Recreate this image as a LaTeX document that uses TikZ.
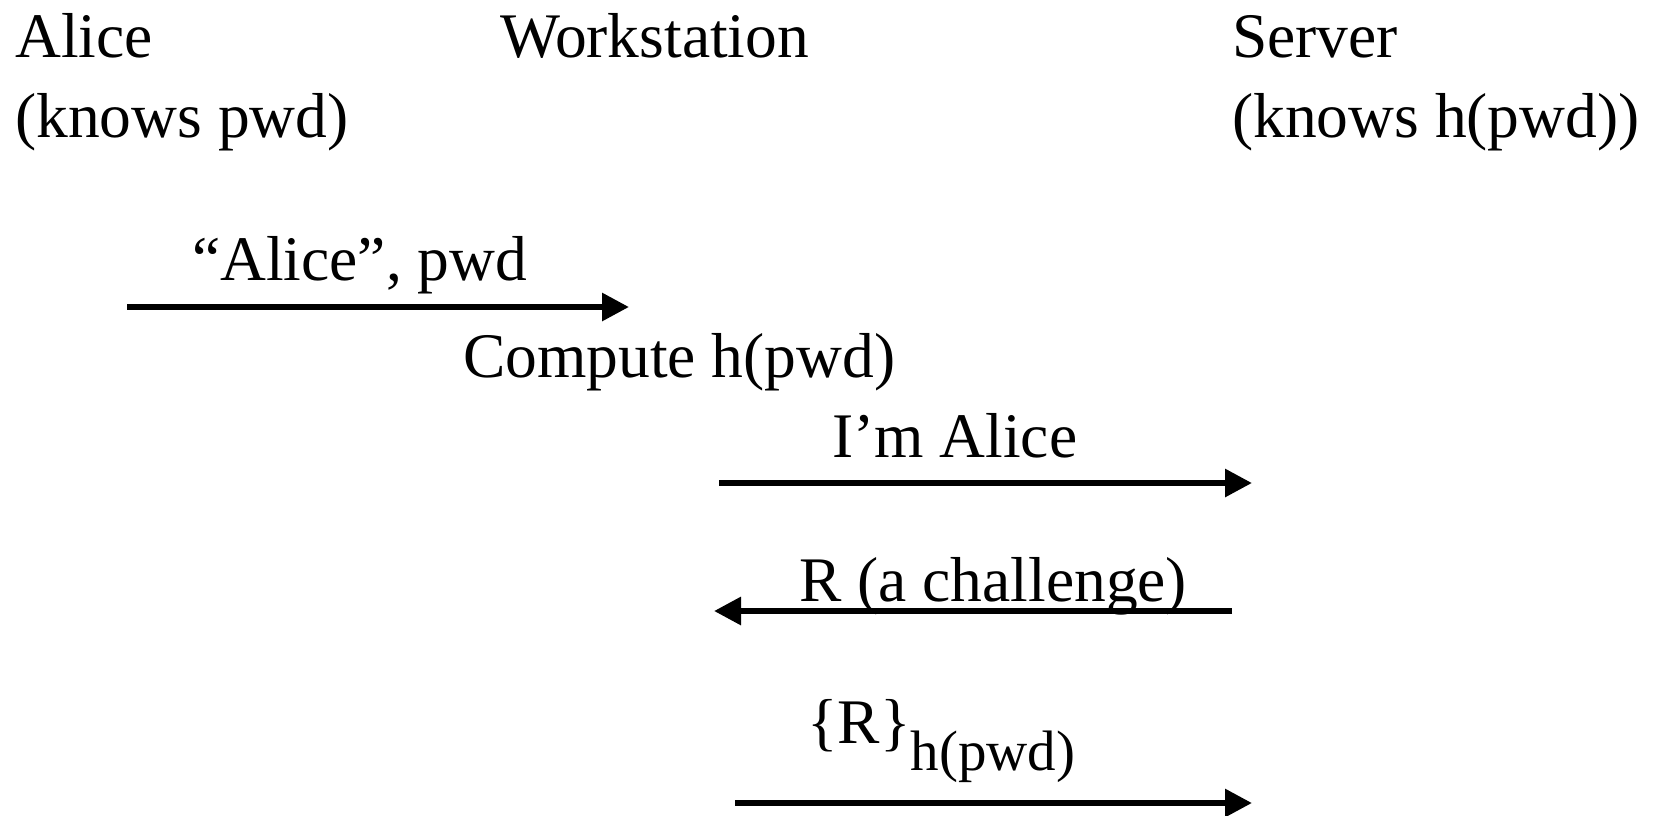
\documentclass[tikz,border=0pt]{standalone}
\usepackage{fontspec}
\setmainfont{Liberation Serif}
\usetikzlibrary{arrows.meta}
\begin{document}
\begin{tikzpicture}[x=1pt,y=-1pt,
  lbl/.style={anchor=base west,inner sep=0pt,font=\fontsize{63.5}{76}\selectfont},
  msg/.style={line width=6pt,-{Triangle[length=27pt,width=27pt]}}]
\useasboundingbox[fill=white] (0,0) rectangle (1657,815);
% column headers
\node[lbl] (alice) at (15,57) {Alice};
\node[lbl] (aliceknows) at (15,137) {(knows pwd)};
\node[lbl] (ws) at (500,57) {Workstation};
\node[lbl] (server) at (1232,57) {Server};
\node[lbl] (serverknows) at (1232,137) {(knows h(pwd))};
% message labels
\node[lbl] (l1) at (192,280) {“Alice”, pwd};
\node[lbl] (comp) at (463,377) {Compute h(pwd)};
\node[lbl] (l2) at (832,457) {I’m Alice};
\node[lbl] (l3) at (799,601) {R (a challenge)};
\node[lbl] (l4) at (807,743) {\{R\}\raisebox{-27pt}{\fontsize{57}{68}\selectfont h(pwd)}};
% arrow end points
\coordinate (a1s) at (127,307);
\coordinate (a1e) at (629,307);
\coordinate (a2s) at (719,483);
\coordinate (a2e) at (1252,483);
\coordinate (a3s) at (1232,611);
\coordinate (a3e) at (714,611);
\coordinate (a4s) at (735,803);
\coordinate (a4e) at (1252,803);
\draw[msg] (a1s) -- (a1e);
\draw[msg] (a2s) -- (a2e);
\draw[msg] (a3s) -- (a3e);
\draw[msg] (a4s) -- (a4e);
\end{tikzpicture}
\end{document}
